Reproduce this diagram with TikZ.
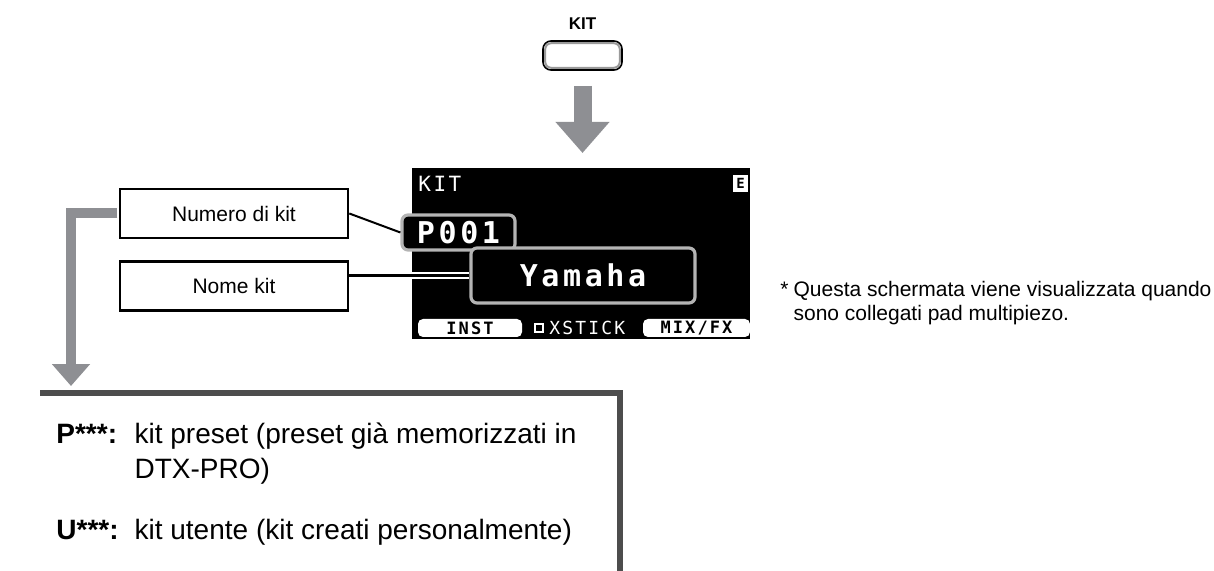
\documentclass[tikz,border=0pt]{standalone}
\usepackage{fontspec}
\setmainfont{Liberation Sans}
\newfontfamily\lcdfont[LetterSpace=12]{DejaVu Sans Mono}
\usetikzlibrary{arrows.meta, positioning, calc}
\definecolor{ArrowGrey}{HTML}{8E8F93}
\definecolor{FrameGrey}{HTML}{4D4D4D}
\definecolor{LcdGrey}{HTML}{B4B4B4}
\definecolor{KeyGrey}{HTML}{9A9A9A}

\begin{document}
\begin{tikzpicture}[x=0.5pt, y=-0.5pt,
    lblbox/.style={draw=black, line width=1.3pt, fill=white, minimum width=114pt,
        minimum height=24.5pt, inner sep=0pt, font=\fontsize{10.5}{12}\selectfont},
    lcdhl/.style={draw=LcdGrey, line width=1.6pt, fill=black, rounded corners=3pt,
        inner sep=0pt, text=white},
    lcdtxt/.style={text=white, inner sep=0pt},
    softkey/.style={fill=white, rounded corners=2.5pt, minimum height=9pt, inner sep=0pt,
        font=\lcdfont\bfseries\fontsize{8.5}{9}\selectfont},
    keycap/.style={draw=black, line width=0.8pt, fill=white, rounded corners=4pt,
        minimum width=39.5pt, minimum height=14.5pt, inner sep=0pt},
    bigarrow/.style={draw=ArrowGrey, line width=5pt, -{Triangle[width=18.5pt, length=11pt]}},
    every node/.style={font=\fontsize{10.5}{12}\selectfont}
]
\useasboundingbox (0,0) rectangle (1214,571);

% =============================================
% KIT key
% =============================================
\node[keycap] (kitkey) at (582.5,55.5) {};
\draw[KeyGrey, line width=1pt, rounded corners=3pt]
    ([shift={(3,3)}]kitkey.north west) rectangle ([shift={(-3,-3)}]kitkey.south east);
\node[above=2pt of kitkey, font=\bfseries\fontsize{8.5}{9}\selectfont] (kitlbl) {KIT};

% =============================================
% Screen
% =============================================
\node[fill=black, minimum width=169pt, minimum height=85.5pt, inner sep=0pt,
    anchor=north west] (screen) at (412,168) {};

\draw[bigarrow, line width=9pt, -{Triangle[width=26pt, length=15.5pt]},
    shorten <=7.5pt, shorten >=7.5pt] (kitkey.south) -- (kitkey.south |- screen.north);

\node[lcdtxt, anchor=north west, font=\lcdfont\fontsize{10.5}{11}\selectfont]
    (scrtitle) at (418,176) {KIT};
\node[fill=white, minimum width=7.5pt, minimum height=8.5pt, inner sep=0pt,
    font=\lcdfont\bfseries\fontsize{7}{7}\selectfont] (scricon) at (740.5,183.5) {E};

\node[lcdhl, minimum width=56.5pt, minimum height=17.5pt,
    font=\lcdfont\bfseries\fontsize{15}{15}\selectfont] (kitnum) at (458.5,232.5) {P001};
\node[lcdhl, minimum width=112pt, minimum height=27.5pt,
    font=\lcdfont\bfseries\fontsize{15}{15}\selectfont] (kitname) at (583,275.5) {Yamaha};

% soft keys
\node[softkey, minimum width=52pt] (instkey) at (470,328) {INST};
\node[softkey, minimum width=53.5pt] (mixkey) at (696.5,328) {MIX/FX};
\node[draw=white, line width=0.9pt, minimum size=4pt, inner sep=0pt] (xbox) at (539,328) {};
\node[lcdtxt, right=2.5pt of xbox, font=\lcdfont\fontsize{9}{9}\selectfont] (xstick) {XSTICK};

% =============================================
% Callouts
% =============================================
\node[lblbox] (numbox) at (234,213.5) {Numero di kit};
\node[lblbox, below=10.5pt of numbox] (namebox) {Nome kit};

\draw[black, line width=1pt] (numbox.east) -- (kitnum.west);
\draw[white, line width=3.5pt] (screen.west |- kitname.west) -- (kitname.west);
\draw[black, line width=1.2pt] (namebox.east |- kitname.west) -- (kitname.west);

% =============================================
% Kit types
% =============================================
\coordinate (infotip) at (71,386);
\draw[bigarrow] ([xshift=-0.65pt]numbox.west) -| (infotip);

\draw[FrameGrey, line width=3pt] (40,393) -- (620,393) -- (620,575);
\node[anchor=base west, inner sep=0pt, font=\fontsize{14}{17.5}\selectfont] (kittypes) at (56,443) {%
    \begin{tabular}[t]{@{}l@{\hspace{8pt}}l@{}}
    \textbf{P***:} & kit preset (preset già memorizzati in \\
                   & DTX-PRO) \\[13pt]
    \textbf{U***:} & kit utente (kit creati personalmente) \\
    \end{tabular}};

% Footnote
\node[anchor=base west, inner sep=0pt, font=\fontsize{10.5}{12}\selectfont] (footnote) at (780,297) {%
    \begin{tabular}[t]{@{}l@{\hspace{2.5pt}}l@{}}
    * & Questa schermata viene visualizzata quando \\
      & sono collegati pad multipiezo. \\
    \end{tabular}};

\end{tikzpicture}
\end{document}
